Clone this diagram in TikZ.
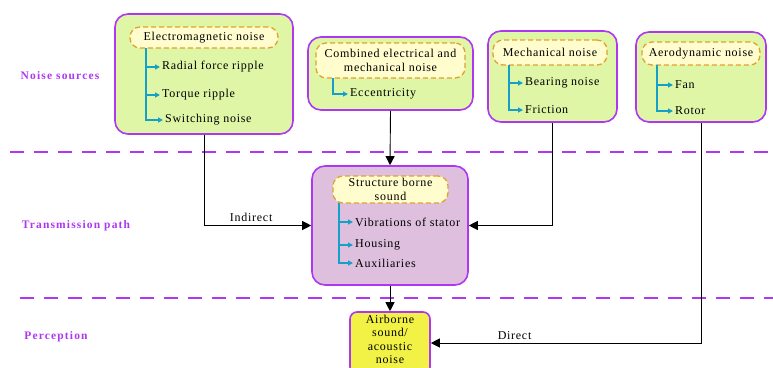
\documentclass[tikz,border=0pt]{standalone}
\usepackage{fontspec}
\setmainfont{Liberation Serif}[LetterSpace=6]
\usetikzlibrary{arrows.meta}

\definecolor{zonepurple}{RGB}{175,55,240}
\definecolor{srcgreen}{RGB}{222,246,165}
\definecolor{hdryellow}{RGB}{255,252,205}
\definecolor{hdrorange}{RGB}{228,160,45}
\definecolor{pathmauve}{RGB}{222,192,222}
\definecolor{percyellow}{RGB}{242,242,70}
\definecolor{branchcyan}{RGB}{20,160,200}

\begin{document}
\begin{tikzpicture}[x=1pt,y=-1pt,
    font=\fontsize{12}{14}\selectfont,
    srcbox/.style={draw=zonepurple,line width=1.6pt,fill=srcgreen,rounded corners=13pt},
    pathbox/.style={draw=zonepurple,line width=1.6pt,fill=pathmauve,rounded corners=13pt},
    percbox/.style={draw=zonepurple,line width=1.6pt,fill=percyellow,rounded corners=7pt,
        align=center,text width=76pt,inner sep=0pt},
    hdr/.style={draw=hdrorange,line width=1.3pt,dash pattern=on 5pt off 3pt,fill=hdryellow,
        rounded corners=10pt,align=center,inner sep=1pt},
    item/.style={anchor=west,inner sep=2pt},
    branch/.style={draw=branchcyan,line width=1.3pt,-{Triangle[length=5pt,width=5pt]}},
    flow/.style={line width=0.9pt,-{Triangle[length=9pt,width=9pt]}},
    sep/.style={draw=zonepurple,line width=1.4pt,dash pattern=on 14pt off 10pt},
    zone/.style={text=zonepurple,font=\fontsize{11.5}{13}\selectfont\bfseries\addfontfeature{LetterSpace=10}}]

\useasboundingbox (0,0) rectangle (773,367);

% Zone separators
\draw[sep] (10,152) -- (773,152);
\draw[sep] (20,298) -- (773,298);

% Zone labels
\node[zone] (zsrc) at (60,76) {Noise sources};
\node[zone] (zpath) at (76,226) {Transmission path};
\node[zone] (zperc) at (56,337) {Perception};

% Noise sources
\node[srcbox,minimum width=178,minimum height=120] (em) at (204,74) {};
\node[srcbox,minimum width=165,minimum height=73] (cb) at (390.5,73.5) {};
\node[srcbox,minimum width=129,minimum height=91] (me) at (552.5,76.5) {};
\node[srcbox,minimum width=130,minimum height=90] (ae) at (701,77) {};

\node[hdr,minimum width=148,minimum height=21] (emh) at (204,37.5) {Electromagnetic noise};
\node[hdr,minimum width=149,minimum height=35] (cbh) at (390.5,60.5) {Combined electrical and\\mechanical noise};
\node[hdr,minimum width=114,minimum height=25] (meh) at (550,52.5) {Mechanical noise};
\node[hdr,minimum width=118,minimum height=23] (aeh) at (701,53.5) {Aerodynamic noise};

\node[item] (em1) at (160,67) {Radial force ripple};
\node[item] (em2) at (160,95) {Torque ripple};
\node[item] (em3) at (163,120) {Switching noise};
\node[item] (cb1) at (348,94) {Eccentricity};
\node[item] (me1) at (523,83) {Bearing noise};
\node[item] (me2) at (523,110) {Friction};
\node[item] (ae1) at (673,85) {Fan};
\node[item] (ae2) at (673,111) {Rotor};

\coordinate (emb) at (146,48);
\coordinate (cbb) at (333,78);
\coordinate (meb) at (509,65);
\coordinate (aeb) at (657,65);

\draw[branch] (emb) |- (em1.west);
\draw[branch] (emb) |- (em2.west);
\draw[branch] (emb) |- (em3.west);
\draw[branch] (cbb) |- (cb1.west);
\draw[branch] (meb) |- (me1.west);
\draw[branch] (meb) |- (me2.west);
\draw[branch] (aeb) |- (ae1.west);
\draw[branch] (aeb) |- (ae2.west);

% Transmission path
\node[pathbox,minimum width=156,minimum height=119] (st) at (390,225.5) {};
\node[hdr,minimum width=115,minimum height=27] (sth) at (390.5,189.5) {Structure borne\\sound};
\node[item] (st1) at (353,222) {Vibrations of stator};
\node[item] (st2) at (353,245) {Housing};
\node[item] (st3) at (353,263) {Auxiliaries};

\coordinate (stb) at (339,203);
\draw[branch] (stb) |- (st1.west);
\draw[branch] (stb) |- (st2.west);
\draw[branch] (stb) |- (st3.west);

% Perception
\node[percbox,minimum width=80,minimum height=62,
    font=\fontsize{12}{13.5}\selectfont] (ab) at (390,343) {};
\node[align=center,inner sep=0pt,font=\fontsize{12}{13.5}\selectfont] (abt) at (390,339.5)
    {Airborne\\sound/\\acoustic\\noise};

% Paths between the zones
\draw[flow] (em.south) |- (st.west) node[pos=0.72,above] {Indirect};
\draw[flow] (cb.south) -- (st.north);
\draw[flow] (me.south) |- (st.east);
\draw[flow] (ae.south) |- (ab.east) node[pos=0.845,above] {Direct};
\draw[flow] (st.south) -- (ab.north);

\end{tikzpicture}
\end{document}
